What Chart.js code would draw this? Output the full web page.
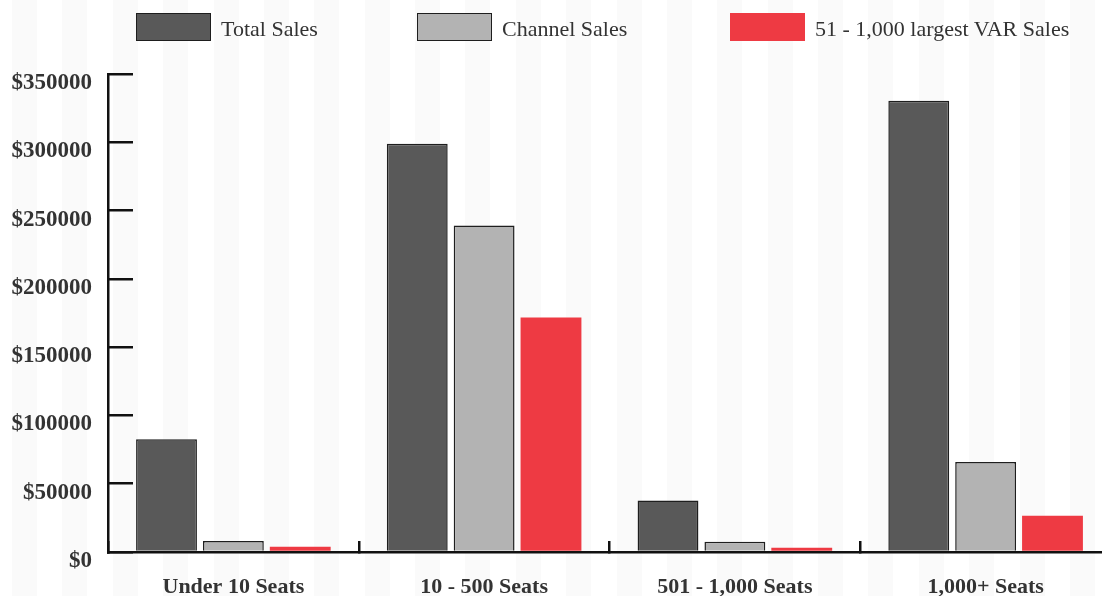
<!DOCTYPE html>
<html>
<head>
<meta charset="utf-8">
<script src="https://cdn.jsdelivr.net/npm/chart.js@4/dist/chart.umd.min.js"></script>
<style>
  html, body { margin: 0; padding: 0; background: #fff; overflow: hidden; }
  #wrap { position: relative; width: 1102px; height: 596px; overflow: hidden; }
  #chart { position: absolute; left: 0; top: 0; }
  #legend { position: absolute; top: 0; left: 0; width: 1102px; height: 60px; }
  .item { position: absolute; top: 13px; height: 28px; display: flex; align-items: center;
    font-family: "Liberation Serif", serif; font-size: 22px; color: #333; }
  .item span.txt { position: relative; top: 2px; }
  .box { width: 75px; height: 28px; box-sizing: border-box; margin-right: 10px; }
</style>
</head>
<body>
<div id="wrap">
  <!-- plot runs a little past the right edge, so the canvas is wider than the view -->
  <canvas id="chart" width="1111" height="596"></canvas>
  <div id="legend"></div>
</div>
<script>
// Chart data
const categories = ["Under 10 Seats", "10 - 500 Seats", "501 - 1,000 Seats", "1,000+ Seats"];
const seriesNames = ["Total Sales", "Channel Sales", "51 - 1,000 largest VAR Sales"];
const totalSales = [82500, 299000, 37700, 330500];
const channelSales = [8000, 239000, 7500, 65900];
const varSales = [3900, 171700, 3100, 26500];
const yTicks = [0, 50000, 100000, 150000, 200000, 250000, 300000, 350000];

const colors = ["#595959", "#b3b3b3", "#ee3a43"];
const borders = ["#1e1e1e", "#1e1e1e", "#ee3a43"];
const legendLeft = [136, 417, 730];

// faint vertical stripes behind everything
const stripes = {
  id: "stripes",
  beforeDraw(chart) {
    const ctx = chart.ctx;
    ctx.save();
    ctx.fillStyle = "#fafafa";
    const step = 1058 / 21;
    for (let x = 12; x < chart.width; x += step) {
      ctx.fillRect(Math.round(x), 0, 25, chart.height);
    }
    ctx.restore();
  },
};

// build the html legend
const legend = document.getElementById("legend");
seriesNames.forEach((name, i) => {
  const item = document.createElement("div");
  item.className = "item";
  item.style.left = legendLeft[i] + "px";
  const box = document.createElement("span");
  box.className = "box";
  box.style.background = colors[i];
  box.style.border = i < 2 ? "1.5px solid #1e1e1e" : "none";
  item.appendChild(box);
  const label = document.createElement("span");
  label.className = "txt";
  label.textContent = name;
  item.appendChild(label);
  legend.appendChild(item);
});

const seriesData = [totalSales, channelSales, varSales];

new Chart(document.getElementById("chart"), {
  type: "bar",
  data: {
    labels: categories,
    datasets: seriesNames.map((name, i) => ({
      label: name,
      data: seriesData[i],
      backgroundColor: colors[i],
      borderColor: borders[i],
      borderWidth: i < 2 ? 1.5 : 0,
      categoryPercentage: 0.8,
      barPercentage: 0.91,
    })),
  },
  options: {
    responsive: false,
    animation: false,
    layout: { padding: { top: 74, left: 0, right: 0, bottom: 0 } },
    plugins: {
      legend: { display: false },
      tooltip: { enabled: false },
    },
    scales: {
      x: {
        afterFit(scale) {
          scale.height = 44;
          scale.paddingLeft = 0;
          scale.paddingRight = 0;
        },
        border: { color: "#111", width: 2.5 },
        grid: { drawOnChartArea: false, color: "#111", lineWidth: 2.5, tickLength: -11 },
        ticks: {
          padding: 33,
          color: "#333",
          font: { family: "Liberation Serif", size: 22, weight: "bold" },
        },
      },
      y: {
        min: 0,
        max: 350000,
        afterFit(scale) {
          scale.width = 108;
          scale.paddingTop = 0;
          scale.paddingBottom = 0;
        },
        afterBuildTicks(scale) { scale.ticks = yTicks.map((v) => ({ value: v })); },
        border: { color: "#111", width: 2.5 },
        grid: { drawOnChartArea: false, color: "#111", lineWidth: 2.5, tickLength: -25 },
        ticks: {
          padding: 41,
          labelOffset: 9,
          color: "#333",
          font: { family: "Liberation Serif", size: 23, weight: "bold" },
          callback: (v) => "$" + v,
        },
      },
    },
  },
  plugins: [stripes],
});
</script>
</body>
</html>
